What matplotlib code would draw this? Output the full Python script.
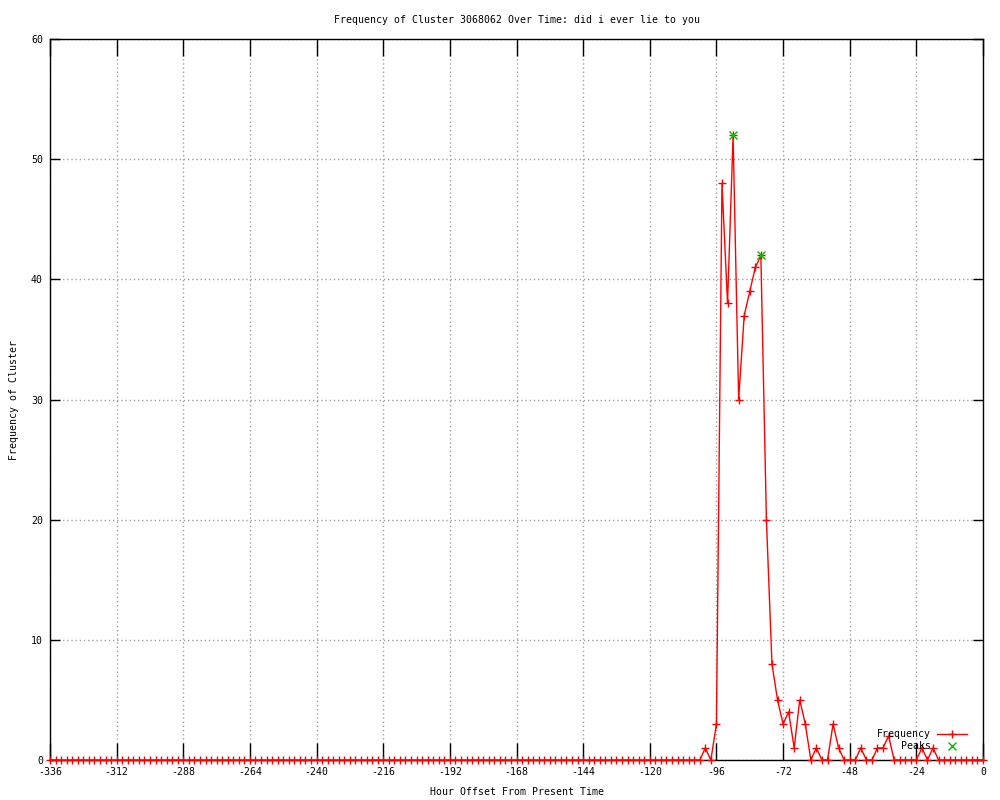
import matplotlib
matplotlib.use("Agg")
import matplotlib.pyplot as plt
import numpy as np

# hours sampled every 2h from -336 to 0
hours = np.arange(-336, 1, 2)
# frequency per sample: flat zeros up to -102, then the burst
freq = [0] * 118 + [
    1, 0, 3, 48, 38, 52, 30, 37, 39, 41, 42, 20, 8, 5, 3, 4, 1, 5, 3, 0,
    1, 0, 0, 3, 1, 0, 0, 0, 1, 0, 0, 1, 1, 2, 0, 0, 0, 0, 0, 1, 0, 1,
] + [0] * 9
peak_hours = [-90, -80]
peak_vals = [52, 42]

xticks = list(range(-336, 1, 24))
yticks = list(range(0, 61, 10))

plt.rcParams['font.family'] = ['DejaVu Sans Mono']
plt.rcParams['font.size'] = 7.1
plt.rcParams['axes.unicode_minus'] = False

fig = plt.figure(figsize=(10, 8), dpi=100)
ax = fig.add_axes([0.05, 0.05, 0.933, 0.901])

ax.plot(hours, freq, color='red', lw=1, marker='+', ms=6, mew=1, label='Frequency',
        clip_on=False, zorder=3)
ax.plot(peak_hours, peak_vals, ls='none', color='#00c000', marker='x', ms=6, mew=1,
        label='Peaks', zorder=4)

ax.set_xlim(-336, 0)
ax.set_ylim(0, 60)
ax.set_xticks(xticks)
ax.set_yticks(yticks)
ax.grid(True, color='#a0a0a0', ls=(0, (1, 2)), lw=1)
ax.set_axisbelow(True)
ax.tick_params(axis='x', direction='in', length=12, width=1, top=True, pad=5)
ax.tick_params(axis='y', direction='in', length=7, width=1, right=True, pad=5)
for s in ax.spines.values():
    s.set_linewidth(1)

ax.set_title('Frequency of Cluster 3068062 Over Time: did i ever lie to you',
             fontsize=7.1, pad=12)
ax.set_xlabel('Hour Offset From Present Time', labelpad=7)
ax.set_ylabel('Frequency of Cluster', labelpad=9)

ax.legend(loc='lower right', bbox_to_anchor=(0.988, 0.005), frameon=False,
          markerfirst=False, handlelength=3, handletextpad=0.6, borderpad=0,
          labelspacing=0.25, numpoints=1)

fig.savefig('out.png')
